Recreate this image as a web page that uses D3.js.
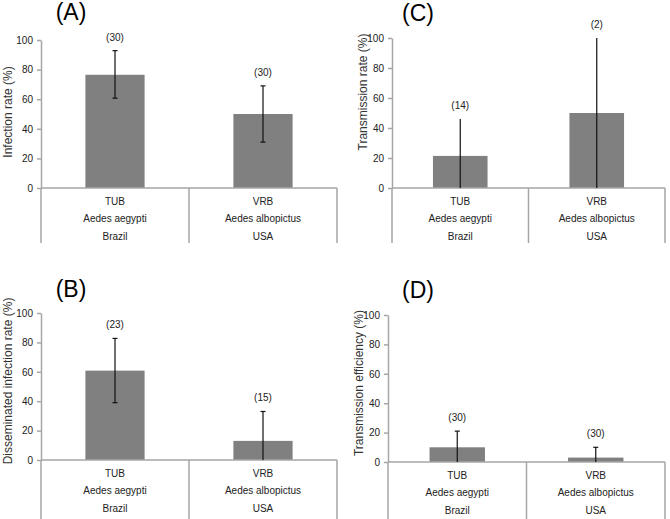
<!DOCTYPE html>
<html><head><meta charset="utf-8">
<script src="https://cdn.jsdelivr.net/npm/d3@7"></script>
<style>body{margin:0;background:#fff}svg{display:block;font-family:"Liberation Sans",Arial,sans-serif}</style>
</head><body>
<svg id="c" width="670" height="519"></svg>
<script>
const strains = ["TUB", "VRB"];
const species = ["Aedes aegypti", "Aedes albopictus"];
const countries = ["Brazil", "USA"];
const yTicks = [0, 20, 40, 60, 80, 100];

const panelLetters = ["(A)", "(B)", "(C)", "(D)"];
const yTitles = ["Infection rate (%)", "Disseminated infection rate (%)", "Transmission rate (%)", "Transmission efficiency (%)"];

const infectionRate = [76.5, 50];
const infectionLow = [60.7, 31];
const infectionHigh = [92.8, 69];
const infectionN = [30, 30];

const disseminationRate = [60.8, 13];
const disseminationLow = [39, 0];
const disseminationHigh = [82.7, 33];
const disseminationN = [23, 15];

const transmissionRate = [21.4, 50];
const transmissionLow = [0, 0];
const transmissionHigh = [46, 100];
const transmissionN = [14, 2];

const efficiencyRate = [10, 3];
const efficiencyLow = [0, 0];
const efficiencyHigh = [21, 10];
const efficiencyN = [30, 30];

const svg = d3.select("#c");

const layouts = [
  {x0: 41, x1: 337, top: 40, bot: 188, catBot: 243, tx: 71, ty: 20, ytx: 8, yty: 112, caps: true},
  {x0: 41, x1: 337, top: 313, bot: 460, catBot: 519, tx: 71, ty: 297, ytx: 8, yty: 381, caps: true},
  {x0: 392, x1: 665, top: 38, bot: 188, catBot: 243, tx: 418, ty: 21, ytx: 363, yty: 92, caps: false},
  {x0: 388, x1: 665, top: 315, bot: 462, catBot: 519, tx: 418, ty: 298, ytx: 359, yty: 383, caps: true}
];
const datasets = [
  [infectionRate, infectionLow, infectionHigh, infectionN],
  [disseminationRate, disseminationLow, disseminationHigh, disseminationN],
  [transmissionRate, transmissionLow, transmissionHigh, transmissionN],
  [efficiencyRate, efficiencyLow, efficiencyHigh, efficiencyN]
];

const axisColor = "#a6a6a6";

layouts.forEach((L, i) => {
  const [vals, lo, hi, ns] = datasets[i];
  const g = svg.append("g");
  const x = d3.scaleBand().domain(strains).range([L.x0, L.x1]).padding(0);
  const y = d3.scaleLinear().domain([0, 100]).range([L.bot, L.top]);
  const bw = x.bandwidth() * 0.4;

  // panel letter
  g.append("text").attr("x", L.tx).attr("y", L.ty).attr("text-anchor", "middle")
    .attr("font-size", 23).attr("fill", "#000").text(panelLetters[i]);

  // y axis title
  g.append("text").attr("transform", `translate(${L.ytx},${L.yty}) rotate(-90)`)
    .attr("text-anchor", "middle").attr("dominant-baseline", "central")
    .attr("font-size", 12).attr("fill", "#333").text(yTitles[i]);

  // y axis
  const ya = g.append("g").attr("transform", `translate(${L.x0},0)`)
    .call(d3.axisLeft(y).tickValues(yTicks).tickSize(4).tickSizeOuter(0).tickPadding(4));
  ya.select(".domain").attr("stroke", axisColor).attr("stroke-width", 1.5);
  ya.selectAll(".tick line").attr("stroke", axisColor).attr("stroke-width", 1.5);
  ya.selectAll(".tick text").attr("font-size", 10).attr("fill", "#222")
    .attr("font-family", "Liberation Sans, Arial, sans-serif");
  g.append("line").attr("x1", L.x0).attr("x2", L.x0).attr("y1", y(0)).attr("y2", L.catBot)
    .attr("stroke", axisColor).attr("stroke-width", 1.5);

  // bars
  g.selectAll("rect.bar").data(strains).join("rect")
    .attr("x", d => x(d) + x.bandwidth() / 2 - bw / 2)
    .attr("width", bw)
    .attr("y", (d, j) => y(vals[j]))
    .attr("height", (d, j) => y(0) - y(vals[j]))
    .attr("fill", "#808080");

  // horizontal axis
  g.append("line").attr("x1", L.x0).attr("x2", L.x1).attr("y1", y(0)).attr("y2", y(0))
    .attr("stroke", axisColor).attr("stroke-width", 1.5);
  // category separators
  strains.forEach((s, j) => {
    const xe = x(s) + x.bandwidth();
    g.append("line").attr("x1", xe).attr("x2", xe).attr("y1", y(0)).attr("y2", L.catBot)
      .attr("stroke", axisColor).attr("stroke-width", 1.5);
  });

  // error bars
  strains.forEach((s, j) => {
    const cx = x(s) + x.bandwidth() / 2;
    g.append("line").attr("x1", cx).attr("x2", cx).attr("y1", y(lo[j])).attr("y2", y(hi[j]))
      .attr("stroke", "#111").attr("stroke-width", 1.2);
    if (L.caps) {
      [hi[j], lo[j]].forEach(v => {
        if (v > 0) g.append("line").attr("x1", cx - 2.5).attr("x2", cx + 2.5)
          .attr("y1", y(v)).attr("y2", y(v)).attr("stroke", "#111").attr("stroke-width", 1.2);
      });
    }
    g.append("text").attr("x", cx).attr("y", y(hi[j]) - 10).attr("text-anchor", "middle")
      .attr("font-size", 10).attr("fill", "#222").text(`(${ns[j]})`);
    const labs = [strains[j], species[j], countries[j]];
    labs.forEach((t, k) => {
      g.append("text").attr("x", cx).attr("y", y(0) + 13 + k * 17.5 + 3.5)
        .attr("text-anchor", "middle").attr("font-size", 10).attr("fill", "#222").text(t);
    });
  });
});
</script>
</body></html>
